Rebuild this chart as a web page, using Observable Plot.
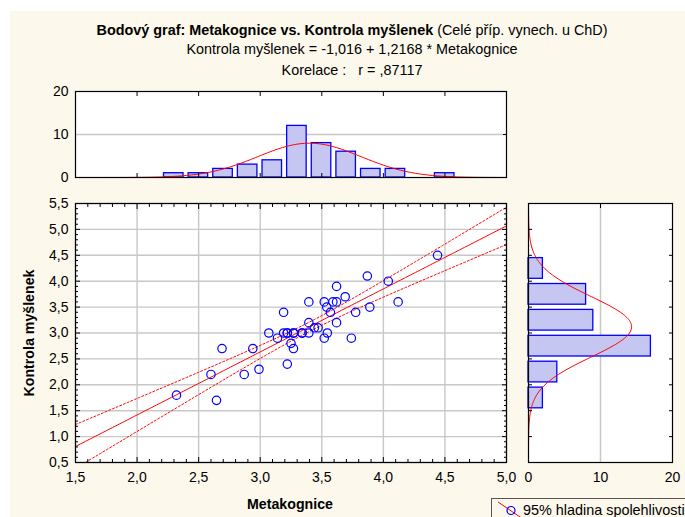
<!DOCTYPE html>
<html><head><meta charset="utf-8">
<script src="https://cdn.jsdelivr.net/npm/d3@7"></script>
<script src="https://cdn.jsdelivr.net/npm/@observablehq/plot@0.6"></script>
<style>
body{margin:0;background:#fff;font-family:"Liberation Sans",Arial,sans-serif;}
#root{position:relative;width:685px;height:517px;overflow:hidden;background:#fff;}
#bg{position:absolute;left:10px;top:11px;right:0;bottom:0;background:#fcf8ec;}
.t{position:absolute;left:0;width:704px;text-align:center;font-size:14.4px;line-height:16px;color:#000;white-space:nowrap;}
.p{position:absolute;}
#xt{position:absolute;left:190px;width:200px;top:496px;text-align:center;font-weight:bold;font-size:14.2px;line-height:16px;}
#yt{position:absolute;left:-71px;width:200px;top:325px;text-align:center;font-weight:bold;font-size:14.2px;line-height:16px;transform:rotate(-90deg);}
#legend{position:absolute;left:491px;top:498px;width:250px;height:40px;border:1px solid #555;background:#fcf8ec;font-size:14.4px;}
#legend svg{position:absolute;left:4px;top:1px;}
#legend span{position:absolute;left:31px;top:3px;white-space:nowrap;}
</style></head>
<body>
<div id="root">
  <div id="bg"></div>
  <div class="t" style="top:22px"><b>Bodový graf: Metakognice vs. Kontrola myšlenek</b> (Celé příp. vynech. u ChD)</div>
  <div class="t" style="top:41px">Kontrola myšlenek = -1,016 + 1,2168 * Metakognice</div>
  <div class="t" style="top:62px">Korelace :&nbsp;&nbsp; r = ,87117</div>
  <div id="top" class="p" style="left:0;top:80px"></div>
  <div id="main" class="p" style="left:0;top:190px"></div>
  <div id="right" class="p" style="left:510px;top:190px"></div>
  <div id="xt">Metakognice</div>
  <div id="yt">Kontrola myšlenek</div>
  <div id="legend"><svg width="28" height="20"><line x1="2" y1="2" x2="27" y2="19" stroke="red" stroke-width="1"/><circle cx="15" cy="10.5" r="4" fill="none" stroke="#0000ff" stroke-width="1.2"/></svg><span>95% hladina spolehlivosti</span></div>
</div>
<script>
// ---- data ----
const metakognice = [2.32, 2.60, 2.645, 2.69, 2.87, 2.94, 2.99, 3.07, 3.14, 3.19, 3.19, 3.22, 3.22, 3.25, 3.27, 3.27, 3.34, 3.395, 3.395, 3.395, 3.44, 3.47, 3.52, 3.52, 3.54, 3.545, 3.57, 3.59, 3.62, 3.62, 3.62, 3.69, 3.74, 3.775, 3.87, 3.89, 4.04, 4.12, 4.44, 3.22, 3.27, 3.34];
const kontrola    = [1.8, 2.2, 1.7, 2.7, 2.2, 2.7, 2.3, 3.0, 2.9, 3.4, 3.0, 3.0, 2.4, 2.8, 2.7, 3.0, 3.0, 3.0, 3.6, 3.2, 3.1, 3.1, 3.6, 2.9, 3.5, 3.0, 3.4, 3.6, 3.9, 3.6, 3.2, 3.7, 2.9, 3.4, 4.1, 3.5, 4.0, 3.6, 4.5, 3.0, 3.0, 3.0];

const topBinStart = [2.2, 2.4, 2.6, 2.8, 3.0, 3.2, 3.4, 3.6, 3.8, 4.0, 4.2, 4.4];
const topCounts   = [1, 1, 2, 3, 4, 12, 8, 6, 2, 2, 0, 1];
const topBinWidth = 0.2;

const rightBinStart = [1.5, 2.0, 2.5, 3.0, 3.5, 4.0];
const rightCounts   = [2, 4, 17, 9, 8, 2];
const rightBinWidth = 0.5;

const intercept = -1.016, slope = 1.2168;
const nObs = 42, meanX = 3.40, sdX = 0.42, meanY = 3.12, sdY = 0.585;
const tCrit = 2.021, residSE = 0.29;

const xTicks = [1.5, 2.0, 2.5, 3.0, 3.5, 4.0, 4.5, 5.0];
const yTicks = [0.5, 1.0, 1.5, 2.0, 2.5, 3.0, 3.5, 4.0, 4.5, 5.0, 5.5];
const countTicks = [0, 10, 20];

// ---- derived ----
const fmt = d => d.toFixed(1).replace(".", ",");
const points = metakognice.map((x, i) => ({x, y: kontrola[i]}));
const xMinor = d3.range(15, 51).map(i => i / 10).filter(v => Math.abs(v * 2 - Math.round(v * 2)) > 1e-6);
const yMinor = d3.range(5, 56).map(i => i / 10).filter(v => Math.abs(v * 2 - Math.round(v * 2)) > 1e-6);
const pdf = (v, m, s) => Math.exp(-0.5 * ((v - m) / s) ** 2) / (s * Math.sqrt(2 * Math.PI));
const Sxx = (nObs - 1) * sdX * sdX;
const grid = d3.range(1.5, 5.0001, 0.02);
const fit = grid.map(x => {
  const yh = intercept + slope * x;
  const hw = tCrit * residSE * Math.sqrt(1 / nObs + (x - meanX) ** 2 / Sxx);
  return {x, y: yh, lo: yh - hw, hi: yh + hw};
});
const topBars = topBinStart.map((s, i) => ({x1: s, x2: s + topBinWidth, c: topCounts[i]})).filter(d => d.c > 0);
const rightBars = rightBinStart.map((s, i) => ({y1: s, y2: s + rightBinWidth, c: rightCounts[i]}));
const topCurve = grid.map(x => ({x, c: nObs * topBinWidth * pdf(x, meanX, sdX)}));
const rightCurve = d3.range(0.5, 5.5001, 0.02).map(y => ({y, c: nObs * rightBinWidth * pdf(y, meanY, sdY)}));

const style = {background: "transparent", fontFamily: "Liberation Sans, Arial, sans-serif", fontSize: "14px", color: "#000", overflow: "visible"};
const gridC = "#c8c8c8";
const barFill = "#c6c6f2", barStroke = "#0000ff";

// ---- main scatter ----
const main = Plot.plot({
  width: 520, height: 310,
  marginLeft: 75, marginRight: 14, marginTop: 13, marginBottom: 38,
  x: {domain: [1.5, 5.0]},
  y: {domain: [0.5, 5.5]},
  style,
  marks: [
    Plot.frame({fill: "white", stroke: null}),
    Plot.gridX(xTicks, {stroke: gridC, strokeOpacity: 1, strokeWidth: 1.4}),
    Plot.gridY(yTicks, {stroke: gridC, strokeOpacity: 1, strokeWidth: 1.4}),
    Plot.line(fit, {x: "x", y: "hi", stroke: "#ff0000", strokeDasharray: "2,2", strokeWidth: 1, clip: true}),
    Plot.line(fit, {x: "x", y: "lo", stroke: "#ff0000", strokeDasharray: "2,2", strokeWidth: 1, clip: true}),
    Plot.line(fit, {x: "x", y: "y", stroke: "#ff0000", strokeWidth: 1, clip: true}),
    Plot.dot(points, {x: "x", y: "y", r: 4.2, stroke: "#0000ff", strokeWidth: 1.2, fill: "none"}),
    Plot.axisX(xTicks, {anchor: "bottom", tickSize: 0, tickPadding: 10, tickFormat: fmt, label: null}),
    Plot.axisY(yTicks, {anchor: "left", tickSize: 0, tickPadding: 7, tickFormat: fmt, label: null}),
    Plot.axisX(xTicks, {anchor: "bottom", tickSize: -5, tickFormat: () => "", label: null}),
    Plot.axisX(xMinor, {anchor: "bottom", tickSize: -3, tickFormat: () => "", label: null}),
    Plot.axisX(xTicks, {anchor: "top", tickSize: -5, tickFormat: () => "", label: null}),
    Plot.axisX(xMinor, {anchor: "top", tickSize: -3, tickFormat: () => "", label: null}),
    Plot.axisY(yTicks, {anchor: "left", tickSize: -5, tickFormat: () => "", label: null}),
    Plot.axisY(yMinor, {anchor: "left", tickSize: -3, tickFormat: () => "", label: null}),
    Plot.axisY(yTicks, {anchor: "right", tickSize: -5, tickFormat: () => "", label: null}),
    Plot.axisY(yMinor, {anchor: "right", tickSize: -3, tickFormat: () => "", label: null}),
    Plot.frame({stroke: "#000", strokeWidth: 1.2})
  ]
});
document.getElementById("main").append(main);

// ---- top histogram ----
const topH = Plot.plot({
  width: 520, height: 110,
  marginLeft: 75, marginRight: 14, marginTop: 11, marginBottom: 13,
  x: {domain: [1.5, 5.0]},
  y: {domain: [0, 20]},
  style,
  marks: [
    Plot.frame({fill: "white", stroke: null}),
    Plot.gridY([10], {stroke: gridC, strokeOpacity: 1, strokeWidth: 1.5}),
    Plot.rectY(topBars, {x1: "x1", x2: "x2", y: "c", insetLeft: 2.3, insetRight: 2.8, fill: barFill, stroke: barStroke, strokeWidth: 1.3}),
    Plot.line(topCurve, {x: "x", y: "c", stroke: "#ff0000", strokeWidth: 1}),
    Plot.axisY(countTicks, {anchor: "left", tickSize: 0, tickPadding: 7, label: null}),
    Plot.axisX(xTicks, {anchor: "top", tickSize: -4, tickFormat: () => "", label: null}),
    Plot.axisX(xTicks, {anchor: "bottom", tickSize: -4, tickFormat: () => "", label: null}),
    Plot.axisY(countTicks, {anchor: "right", tickSize: -4, tickFormat: () => "", label: null}),
    Plot.frame({stroke: "#000", strokeWidth: 1.2})
  ]
});
document.getElementById("top").append(topH);

// ---- right histogram ----
const rightH = Plot.plot({
  width: 175, height: 310,
  marginLeft: 18, marginRight: 13, marginTop: 13, marginBottom: 38,
  x: {domain: [0, 20]},
  y: {domain: [0.5, 5.5]},
  style,
  marks: [
    Plot.frame({fill: "white", stroke: null}),
    Plot.gridX([10], {stroke: gridC, strokeOpacity: 1, strokeWidth: 1.5}),
    Plot.rectX(rightBars, {y1: "y1", y2: "y2", x: "c", insetTop: 2.8, insetBottom: 2.4, fill: barFill, stroke: barStroke, strokeWidth: 1.3}),
    Plot.line(rightCurve, {x: "c", y: "y", stroke: "#ff0000", strokeWidth: 1}),
    Plot.axisX(countTicks, {anchor: "bottom", tickSize: 0, tickPadding: 10, label: null}),
    Plot.axisY(yTicks, {anchor: "left", tickSize: -4, tickFormat: () => "", label: null}),
    Plot.axisY(yTicks, {anchor: "right", tickSize: -4, tickFormat: () => "", label: null}),
    Plot.axisX(countTicks, {anchor: "top", tickSize: -4, tickFormat: () => "", label: null}),
    Plot.frame({stroke: "#000", strokeWidth: 1.2})
  ]
});
document.getElementById("right").append(rightH);
</script>
</body></html>
